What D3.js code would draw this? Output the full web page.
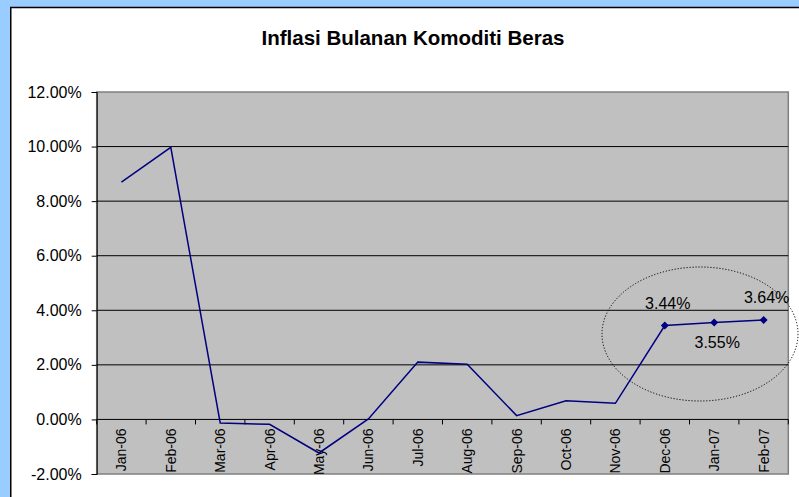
<!DOCTYPE html>
<html>
<head>
<meta charset="utf-8">
<script src="https://cdn.jsdelivr.net/npm/d3@7"></script>
<style>
  body { margin: 0; background: #99ccff; }
  svg { display: block; font-family: "Liberation Sans", Arial, sans-serif; }
</style>
</head>
<body>
<div id="chart"></div>
<script>
// data
var months = ["Jan-06", "Feb-06", "Mar-06", "Apr-06", "May-06", "Jun-06", "Jul-06",
              "Aug-06", "Sep-06", "Oct-06", "Nov-06", "Dec-06", "Jan-07", "Feb-07"];
var inflation = [8.70, 9.97, -0.13, -0.18, -1.23, 0.02, 2.10,
                 2.02, 0.14, 0.68, 0.59, 3.44, 3.55, 3.64];
var markedMonths = ["Dec-06", "Jan-07", "Feb-07"];
var yTicks = [-2, 0, 2, 4, 6, 8, 10, 12];
var title = "Inflasi Bulanan Komoditi Beras";

var width = 799, height = 497;
var plot = {left: 96.7, right: 788.3, top: 92, bottom: 474};

var svg = d3.select("#chart").append("svg")
    .attr("width", width)
    .attr("height", height);

// chart area (white with black frame, runs past the window right/bottom)
svg.append("rect")
    .attr("x", 10.75).attr("y", 7.5)
    .attr("width", 820).attr("height", 520)
    .attr("fill", "#fff")
    .attr("stroke", "#000")
    .attr("stroke-width", 1.5);

svg.append("text")
    .attr("x", 413).attr("y", 45)
    .attr("text-anchor", "middle")
    .attr("font-size", "20.5px")
    .attr("font-weight", "bold")
    .text(title);

var x = d3.scaleBand()
    .domain(months)
    .range([plot.left, plot.right])
    .paddingInner(0).paddingOuter(0);

var y = d3.scaleLinear()
    .domain([-2, 12])
    .range([plot.bottom, plot.top]);

// plot background
svg.append("rect")
    .attr("x", plot.left).attr("y", plot.top)
    .attr("width", plot.right - plot.left)
    .attr("height", plot.bottom - plot.top)
    .attr("fill", "#c0c0c0")
    .attr("stroke", "#808080")
    .attr("stroke-width", 1.5);

// gridlines
svg.append("g").selectAll("line")
    .data(yTicks.filter(function (d) { return d > 0 && d < 12; }))
    .join("line")
    .attr("x1", plot.left).attr("x2", plot.right)
    .attr("y1", function (d) { return y(d); })
    .attr("y2", function (d) { return y(d); })
    .attr("stroke", "#000")
    .attr("stroke-width", 1);

// y axis
var yAxis = d3.axisLeft(y)
    .tickValues(yTicks)
    .tickSize(5)
    .tickPadding(10)
    .tickFormat(function (d) { return d.toFixed(2) + "%"; });

var gy = svg.append("g")
    .attr("transform", "translate(" + plot.left + ",0)")
    .call(yAxis);
gy.select(".domain").attr("stroke", "#000");
gy.selectAll("text")
    .attr("font-size", "16px")
    .attr("font-family", "Liberation Sans, Arial, sans-serif")
    .attr("fill", "#000");

// x axis on the zero line, ticks at category boundaries
var zeroY = y(0);
svg.append("line")
    .attr("x1", plot.left).attr("x2", plot.right)
    .attr("y1", zeroY).attr("y2", zeroY)
    .attr("stroke", "#000");

var bounds = months.map(function (m) { return x(m); }).concat([plot.right]);
svg.append("g").selectAll("line")
    .data(bounds)
    .join("line")
    .attr("x1", function (d) { return d; })
    .attr("x2", function (d) { return d; })
    .attr("y1", zeroY).attr("y2", zeroY + 5)
    .attr("stroke", "#000");

svg.append("g").selectAll("text")
    .data(months)
    .join("text")
    .attr("transform", function (d) {
        return "translate(" + (x(d) + x.bandwidth() / 2) + "," + (zeroY + 9) + ") rotate(-90)";
    })
    .attr("text-anchor", "end")
    .attr("dy", "0.35em")
    .attr("font-size", "14px")
    .text(function (d) { return d; });

// the line
var line = d3.line()
    .x(function (d, i) { return x(months[i]) + x.bandwidth() / 2; })
    .y(function (d) { return y(d); });

svg.append("path")
    .attr("d", line(inflation))
    .attr("fill", "none")
    .attr("stroke", "#000080")
    .attr("stroke-width", 1.5);

// markers on the last three months
var marked = months.map(function (m, i) { return {m: m, v: inflation[i]}; })
    .filter(function (d) { return markedMonths.indexOf(d.m) >= 0; });

svg.append("g").selectAll("path")
    .data(marked)
    .join("path")
    .attr("d", d3.symbol().type(d3.symbolSquare).size(32))
    .attr("transform", function (d) {
        return "translate(" + (x(d.m) + x.bandwidth() / 2) + "," + y(d.v) + ") rotate(45)";
    })
    .attr("fill", "#000080");

// data labels: first and last above, middle below
svg.append("g").selectAll("text")
    .data(marked)
    .join("text")
    .attr("x", function (d) { return x(d.m) + x.bandwidth() / 2 + 3; })
    .attr("y", function (d, i) { return y(d.v) + (i === 1 ? 25 : -17); })
    .attr("text-anchor", "middle")
    .attr("font-size", "16px")
    .text(function (d) { return d.v.toFixed(2) + "%"; });

// dotted ellipse around the highlighted points
svg.append("ellipse")
    .attr("cx", 700).attr("cy", 334)
    .attr("rx", 98).attr("ry", 67)
    .attr("fill", "none")
    .attr("stroke", "#000")
    .attr("stroke-width", 1)
    .attr("stroke-dasharray", "1.2,1.8");
</script>
</body>
</html>
